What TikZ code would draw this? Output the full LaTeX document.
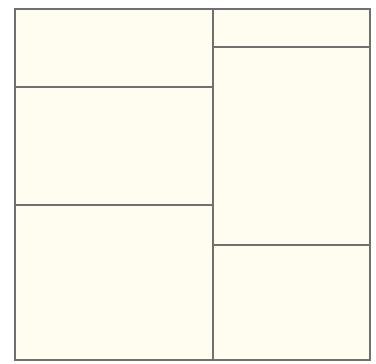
\documentclass[tikz,border=0pt]{standalone}
\usepackage{xcolor}
\usepackage{tikz}

\definecolor{panelfill}{HTML}{FFFDF0}
\definecolor{paneledge}{HTML}{707070}

\begin{document}
\begin{tikzpicture}[
			x=0.02cm, y=-0.02cm,
			panel/.style={
				draw=paneledge,
				fill=panelfill,
				line width=1.6pt
			},
			divider/.style={draw=paneledge, line width=1.6pt}
			]
			
			\useasboundingbox (0,0) rectangle (376,363);
			
			% outer frame
			\draw[panel] (15,9) rectangle (370,360);
			
			% columns
			\draw[divider] (213,9) -- (213,360);
			
			% left column
			\draw[divider] (15,87) -- (213,87);
			\draw[divider] (15,205) -- (213,205);
			
			% right column
			\draw[divider] (213,47) -- (370,47);
			\draw[divider] (213,245) -- (370,245);
			
		\end{tikzpicture}
\end{document}
